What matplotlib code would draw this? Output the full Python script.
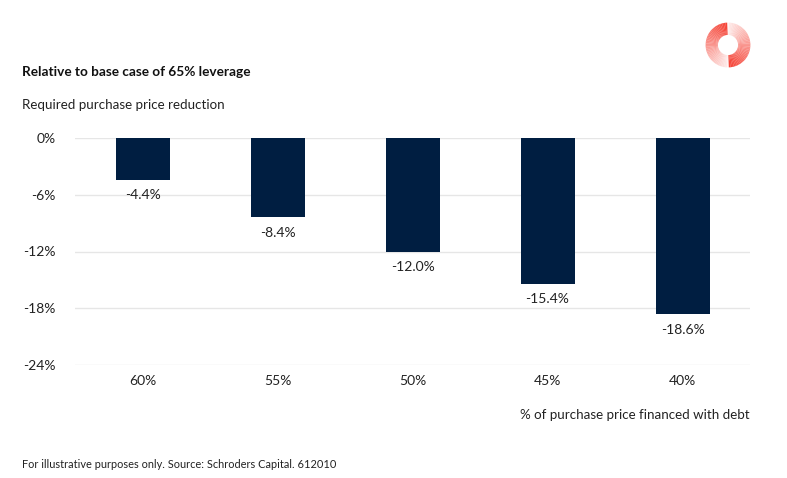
import matplotlib
matplotlib.use("Agg")
import matplotlib.pyplot as plt
from matplotlib.patches import Wedge
import numpy as np

categories = ["60%", "55%", "50%", "45%", "40%"]
values = [-4.4, -8.4, -12.0, -15.4, -18.6]
yticks = [0, -6, -12, -18, -24]
ytick_labels = ["0%", "-6%", "-12%", "-18%", "-24%"]

plt.rcParams['font.family'] = ['Lato', 'DejaVu Sans']

W, H = 787, 478
fig = plt.figure(figsize=(W/100, H/100), dpi=100)
ax = fig.add_axes([75/W, 1-365/H, 675/W, (365-138)/H])

FS = 9.6
x = np.arange(len(categories))
ax.bar(x, values, width=0.4, color="#001e41", zorder=3)
ax.set_xlim(-0.5, len(categories)-0.5)
ax.set_ylim(-24, 0)
ax.set_yticks(yticks)
ax.set_yticklabels(ytick_labels)
ax.set_xticks(x)
ax.set_xticklabels(categories)
ax.grid(axis='y', color="#e6e6e6", linewidth=1, zorder=0)
ax.set_axisbelow(True)
for s in ax.spines.values():
    s.set_visible(False)
ax.tick_params(axis='both', length=0, labelsize=10, colors="#222222")
ax.tick_params(axis='y', pad=14)
ax.tick_params(axis='x', pad=7)

for xi, v in zip(x, values):
    ax.annotate(f"{v:.1f}%", (xi, v), xytext=(0, -7), textcoords='offset points',
                ha='center', va='top', fontsize=10, color="#222222")

fig.text(22/W, 1-72/H, "Relative to base case of 65% leverage", fontsize=9.8,
         fontweight='bold', va='center', ha='left', color="#111111")
fig.text(22/W, 1-105/H, "Required purchase price reduction", fontsize=FS,
         va='center', ha='left', color="#222222")
fig.text(750/W, 1-415/H, "% of purchase price financed with debt", fontsize=FS,
         va='center', ha='right', color="#222222")
fig.text(22/W, 1-465/H, "For illustrative purposes only. Source: Schroders Capital. 612010",
         fontsize=7.9, va='center', ha='left', color="#222222")

# logo
lax = fig.add_axes([700/W, 1-73/H, 56/W, 56/H])
lax.set_xlim(-1, 1); lax.set_ylim(-1, 1); lax.axis('off'); lax.set_aspect('equal')
red = np.array([0.96, 0.27, 0.22])
white = np.array([1, 1, 1])
n = 40
for i in range(n):
    t = i / n
    a0 = 92 + t*176; a1 = 92 + (t+1/n)*176
    c = red*(1-t*0.9) + white*(t*0.9)
    lax.add_patch(Wedge((0, 0), 0.8, a0, a1+0.5, width=0.44, color=c, lw=0))
    b0 = 272 + t*176; b1 = 272 + (t+1/n)*176
    lax.add_patch(Wedge((0, 0), 0.8, b0, b1+0.5, width=0.44, color=c, lw=0))

fig.savefig("out.png", dpi=100)
